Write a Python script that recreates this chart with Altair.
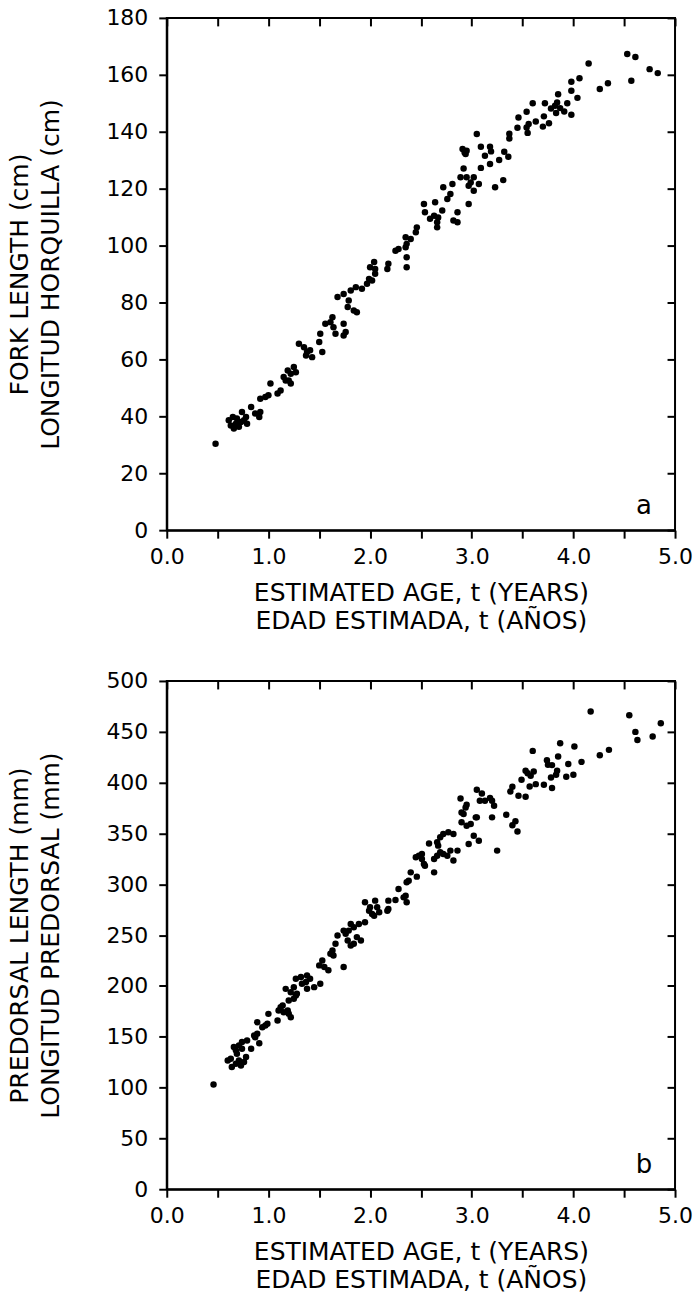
import altair as alt
import pandas as pd

# ---------------- Panel a: fork length (cm) vs estimated age ----------------
a_age = [0.48,
         0.61, 0.65, 0.63, 0.68, 0.71, 0.69, 0.73, 0.74, 0.76, 0.79, 0.78, 0.66,
         0.83, 0.87, 0.92, 0.91, 0.92, 0.97, 1.00, 1.02, 1.09, 1.12,
         1.15, 1.19, 1.22, 1.25, 1.27, 1.20, 1.22, 1.17,
         1.30, 1.35, 1.38, 1.43, 1.37, 1.41,
         1.50, 1.53, 1.51,
         1.56, 1.61, 1.64, 1.63, 1.66, 1.74, 1.76, 1.74,
         1.68, 1.74, 1.79, 1.78, 1.84, 1.87, 1.81, 1.86, 1.92, 1.97, 2.02,
         1.99, 2.04, 2.00, 2.05, 2.17, 2.18, 2.05,
         2.25, 2.28, 2.35, 2.36, 2.36, 2.35, 2.40, 2.45, 2.46, 2.36,
         2.53, 2.54, 2.59, 2.63, 2.66, 2.66, 2.67, 2.71, 2.64, 2.76, 2.72, 2.81, 2.79, 2.86, 2.82, 2.86,
         2.99, 2.97, 3.02, 3.07, 2.97, 3.23,
         3.37, 3.37, 3.05, 2.91, 2.93, 2.95, 2.94, 3.09, 3.18, 3.19, 3.13, 3.18, 3.09, 2.92, 3.27, 3.32, 3.36, 2.89, 2.95, 3.02, 3.31,
         3.72, 3.78, 3.71, 3.76, 3.70, 3.63, 3.60, 3.54, 3.56, 3.54, 3.55, 3.46, 3.45,
         3.85, 3.94, 3.84, 3.82, 3.87, 3.91, 3.98, 3.83, 3.98, 4.04,
         4.06, 3.98, 4.15, 4.26, 4.34, 4.53, 4.61, 4.57, 4.75, 4.83]
a_len = [30.4,
         38.6, 39.8, 36.8, 37.4, 36.3, 39.2, 38.0, 41.5, 38.6, 37.4, 39.8, 35.7,
         43.3, 41.0, 41.5, 39.8, 46.2, 46.8, 47.4, 51.5, 48.0, 49.1,
         53.8, 56.1, 55.0, 57.3, 55.5, 52.6, 51.5, 52.6,
         65.5, 64.3, 62.6, 60.8, 61.4, 63.2,
         66.1, 62.6, 69.0,
         72.5, 73.1, 71.3, 74.8, 69.0, 72.5, 69.6, 68.4,
         81.9, 83.0, 80.7, 78.4, 77.2, 76.6, 84.2, 85.4, 84.8, 86.6, 87.7,
         88.3, 94.2, 92.4, 90.1, 91.8, 93.6, 91.8,
         98.2, 98.8, 99.4, 95.9, 92.4, 102.9, 102.3, 104.7, 106.4, 100.6,
         114.6, 111.7, 109.4, 110.5, 108.2, 106.4, 109.9, 112.3, 115.2, 116.4, 120.5, 121.6, 118.1, 111.7, 108.8, 108.2,
         122.2, 121.0, 119.3, 121.6, 114.6, 120.5,
         139.3, 137.6, 139.2, 133.9, 132.7, 133.3, 132.2, 134.7, 134.7, 133.1, 131.6, 128.7, 127.3, 127.1, 130.1, 133.0, 131.2, 124.0, 124.0, 124.0, 123.0,
         150.0, 148.2, 145.4, 143.0, 141.8, 143.6, 150.0, 147.0, 142.7, 141.5, 139.6, 145.0, 141.4,
         153.2, 150.0, 150.3, 149.1, 148.3, 147.1, 146.0, 146.6, 154.4, 151.9,
         158.8, 157.6, 164.0, 155.0, 157.0, 167.3, 166.3, 157.9, 162.0, 160.6]

# ---------------- Panel b: predorsal length (mm) vs estimated age ----------------
b_age = [0.46,
         0.60, 0.63, 0.64, 0.68, 0.69, 0.71, 0.73, 0.74, 0.76, 0.78, 0.66, 0.71, 0.74, 0.79, 0.83, 0.68,
         0.91, 0.87, 0.89, 0.86,
         0.89, 0.94, 0.97, 1.00, 0.99,
         1.09, 1.10, 1.12, 1.14, 1.15, 1.19, 1.20, 1.22, 1.20, 1.17, 1.25, 1.27, 1.28, 1.25, 1.22,
         1.27, 1.32, 1.33, 1.37, 1.38, 1.41, 1.45, 1.38,
         1.51, 1.55, 1.53, 1.50, 1.59, 1.61, 1.64, 1.63, 1.74, 1.66,
         1.68, 1.76, 1.78, 1.81, 1.84, 1.87, 1.91, 1.79,
         1.74, 1.81, 1.84, 1.89, 1.95,
         1.95, 2.00, 1.99, 2.02, 2.05, 2.07, 2.09, 2.04, 2.17, 2.18,
         2.18, 2.25, 2.28, 2.33, 2.36, 2.35,
         2.36, 2.38, 2.40, 2.46, 2.45, 2.48, 2.51, 2.53, 2.54, 2.58, 2.51,
         2.63,
         2.63, 2.66, 2.69, 2.72, 2.76, 2.79, 2.82, 2.86, 2.67, 2.69, 2.72, 2.77, 2.82, 2.66,
         2.97, 3.07, 3.02, 2.90, 2.95, 2.99, 2.92, 2.94, 3.04, 3.20, 3.25,
         4.17, 4.55, 4.61, 4.63, 4.78, 4.86, 4.26, 4.35, 4.01, 4.08, 3.87, 3.85, 3.95, 4.00, 3.93, 3.60,
         3.74, 3.75, 3.79, 3.84, 3.83, 3.78, 3.79,
         3.53, 3.55, 3.58, 3.61, 3.49, 3.57, 3.63, 3.71,
         3.40, 3.38, 3.46, 3.53,
         2.89, 2.95, 2.90, 3.05, 3.10, 3.08, 3.13, 3.18, 3.20, 3.22, 3.05, 3.34,
         3.40, 3.45, 3.43]
b_len = [103.1,
         126.7, 128.4, 120.2, 123.5, 133.3, 126.7, 121.8, 138.2, 125.2, 130.1, 139.9, 141.5, 144.8, 146.4, 138.2, 136.6,
         143.7, 149.6, 153.0, 151.3,
         164.3, 159.4, 161.0, 172.5, 162.7,
         166.0, 175.8, 179.1, 180.8, 174.2, 175.8, 172.6, 169.2, 185.6, 197.1, 187.3, 190.5, 192.2, 198.7, 193.8,
         207.0, 208.7, 202.2, 203.8, 197.2, 207.0, 198.8, 210.3,
         202.1, 218.5, 225.1, 220.2, 215.3, 231.6, 230.0, 234.9, 218.5, 241.4,
         249.5, 251.3, 244.6, 239.7, 241.4, 248.0, 244.6, 254.4,
         254.4, 261.0, 257.7, 261.0, 262.6,
         282.2, 277.3, 274.0, 270.8, 283.9, 277.3, 272.4, 269.1, 274.0, 275.7,
         283.9, 284.6, 295.4, 287.1, 282.2, 288.8,
         301.9, 303.5, 311.7, 307.5, 326.5, 328.1, 329.8, 320.0, 318.3, 340.2, 324.9,
         311.7,
         324.9, 328.1, 331.4, 329.8, 328.1, 333.1, 323.3, 333.1, 338.0, 346.2, 349.5, 351.1, 349.5, 341.3,
         339.6, 342.9, 347.8, 360.9, 357.6, 359.3, 369.1, 375.6, 365.8, 365.8, 333.1,
         469.9, 466.3, 449.9, 442.0, 445.3, 458.4, 427.0, 432.2, 435.5, 420.4, 438.8, 425.7, 418.2, 407.7, 405.7, 431.2,
         422.1, 417.5, 417.2, 411.6, 407.7, 405.0, 394.6,
         411.6, 409.3, 406.7, 410.9, 402.8, 396.2, 398.5, 397.8,
         395.9, 391.3, 387.1, 386.1,
         384.4, 378.2, 370.7, 392.9, 389.3, 382.2, 382.2, 384.8, 382.2, 377.3, 365.8, 368.4,
         358.0, 352.0, 362.0]

x_ticks = [0.0, 0.5, 1.0, 1.5, 2.0, 2.5, 3.0, 3.5, 4.0, 4.5, 5.0]
a_yticks = [0, 20, 40, 60, 80, 100, 120, 140, 160, 180]
b_yticks = [0, 50, 100, 150, 200, 250, 300, 350, 400, 450, 500]

x_title = ["ESTIMATED AGE, t (YEARS)", "EDAD ESTIMADA, t (AÑOS)"]
a_ytitle = ["FORK LENGTH (cm)", "LONGITUD HORQUILLA (cm)"]
b_ytitle = ["PREDORSAL LENGTH (mm)", "LONGITUD PREDORSAL (mm)"]

FONT = "DejaVu Sans"
W = 509


def panel(ages, vals, ymax, yticks, ytitle, letter, h):
    df = pd.DataFrame({"age": ages, "val": vals})
    xs = alt.Scale(domain=[0, 5], nice=False, zero=False)
    ys = alt.Scale(domain=[0, ymax], nice=False)
    base = alt.Chart(df)
    pts = base.mark_circle(size=42, color="black", opacity=1).encode(
        x=alt.X("age:Q", scale=xs, axis=alt.Axis(
            values=x_ticks,
            labelExpr="datum.value % 1 == 0 ? format(datum.value, '.1f') : ''",
            title=x_title, titlePadding=13, titleLineHeight=28,
            labelPadding=8, labelFlush=False, labelOverlap=False)),
        y=alt.Y("val:Q", scale=ys, axis=alt.Axis(
            values=yticks, title=ytitle, titlePadding=42, titleLineHeight=31,
            labelPadding=11, labelOverlap=False)),
    )
    inner = base.mark_circle(opacity=0).encode(
        x=alt.X("age:Q", scale=xs, axis=alt.Axis(
            orient="top", values=x_ticks, labels=False, domain=False,
            title="", offset=-8)),
        y=alt.Y("val:Q", scale=ys, axis=alt.Axis(
            orient="right", values=yticks, labels=False, domain=False,
            title="", offset=-8)),
    )
    lab = alt.Chart(pd.DataFrame({"t": [letter]})).mark_text(
        font=FONT, fontSize=26, color="black", baseline="middle", align="center"
    ).encode(x=alt.value(478), y=alt.value(h - 24), text="t:N")
    return alt.layer(pts, inner, lab).resolve_axis(
        x="independent", y="independent"
    ).properties(width=W, height=h)


pa = panel(a_age, a_len, 180, a_yticks, a_ytitle, "a", 513)
pb = panel(b_age, b_len, 500, b_yticks, b_ytitle, "b", 509)

chart = alt.vconcat(pa, pb, spacing=35).properties(
    padding={"left": 7, "top": 5, "right": 2, "bottom": 0},
    background="white",
).configure_view(
    stroke="black", strokeWidth=2
).configure_axis(
    grid=False,
    domainColor="black", domainWidth=2,
    tickColor="black", tickWidth=2, tickSize=8,
    labelFont=FONT, labelFontSize=22, labelColor="black",
    titleFont=FONT, titleFontSize=25, titleFontWeight="normal", titleColor="black",
)

chart.save("out.html", embed_options={"renderer": "svg", "actions": False})
